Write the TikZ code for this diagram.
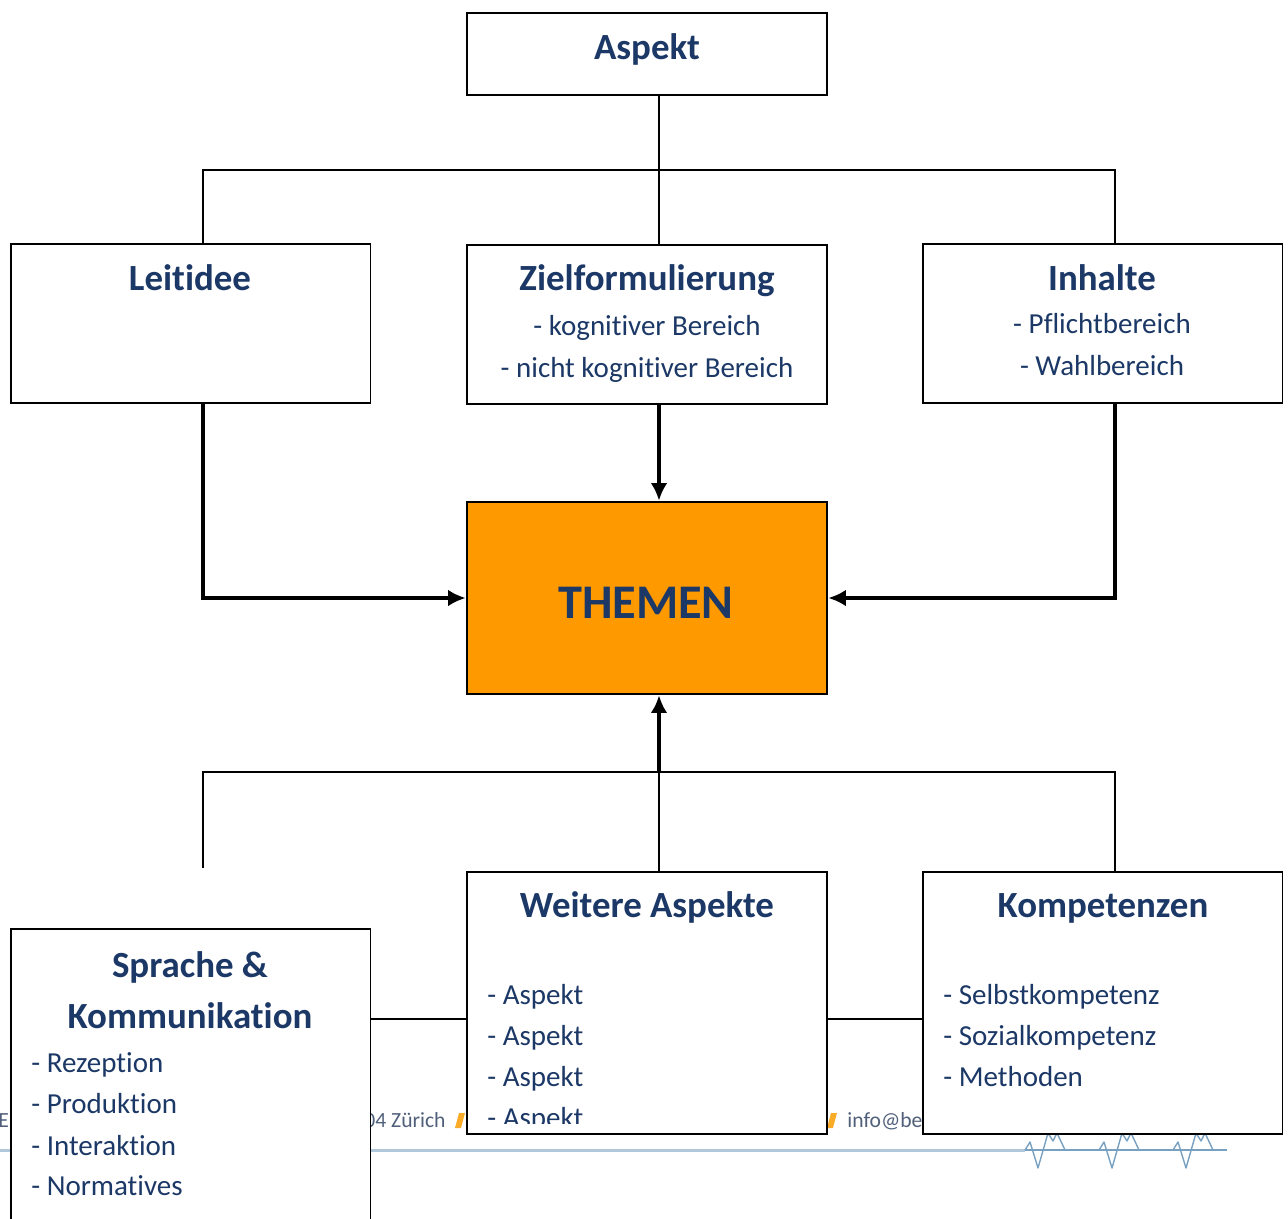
\documentclass[tikz,border=0pt]{standalone}
\usepackage{fontspec}
\setmainfont{Carlito}[Ligatures=CommonOff]
\usetikzlibrary{arrows.meta,positioning}
\definecolor{navy}{RGB}{28,56,102}
\definecolor{themeorange}{RGB}{255,153,0}
\definecolor{footblue}{RGB}{176,200,218}
\definecolor{ecgblue}{RGB}{120,160,192}
\definecolor{footgray}{RGB}{80,96,122}
\definecolor{footorange}{RGB}{250,172,40}

\begin{document}
\begin{tikzpicture}[x=0.02cm,y=-0.02cm,
  box/.style={draw=black, line width=1.1pt, fill=white, minimum width=7.2cm, inner sep=0pt},
  head/.style={text=navy, font=\fontsize{21}{25}\selectfont\bfseries, anchor=base, inner sep=0pt},
  item/.style={text=navy, font=\fontsize{16.5}{20}\selectfont, anchor=base, inner sep=0pt},
  foot/.style={text=footgray, font=\fontsize{12.3}{14}\selectfont, anchor=base west, inner sep=0pt},
  thin line/.style={line width=1pt},
  thick arrow/.style={line width=2pt, -{Latex[length=10pt,width=9.5pt]}}]
\useasboundingbox (0,0) rectangle (1288,1218);
\clip (0,0) rectangle (1288,1218);

\draw[footblue, line width=1.7pt] (0,1150) -- (1025,1150);
\draw[ecgblue, line width=0.8pt] (1025,1150) -- (1227,1150);
\foreach \s in {0,74,148}
  \draw[ecgblue, line width=0.8pt, line join=round] (1025+\s,1150) -- (1030+\s,1142) -- (1038+\s,1168)
    -- (1048+\s,1133) -- (1053+\s,1141) -- (1057+\s,1133) -- (1065+\s,1150);
\node[foot] (footE) at (-2,1127) {E};
\node[foot] (footZ) at (364,1127) {04 Zürich};
\node[foot] (footM) at (847,1127) {info@be};
\fill[footorange] (455,1128) -- (459,1113) -- (465,1113) -- (461,1128) -- cycle;
\fill[footorange] (827,1128) -- (831,1113) -- (837,1113) -- (833,1128) -- cycle;

\node[box, minimum height=1.64cm] (asp) at (647,54) {};
\node[box, minimum height=3.18cm] (leit) at (190.5,323.5) {};
\node[box, minimum height=3.18cm] (ziel) at (647,324.5) {};
\node[box, minimum height=3.18cm] (inh) at (1102.5,323.5) {};
\node[box, fill=themeorange, line width=1.5pt, minimum height=3.84cm] (them) at (647,598) {};
\node[box, minimum height=5.24cm] (weit) at (647,1003) {};
\node[box, minimum height=5.24cm] (komp) at (1102.5,1003) {};
\node[box, minimum height=6.62cm] (spr) at (190.5,1094.5) {};

\node[head] (aspT) at (647,59) {Aspekt};
\node[head] (leitT) at (190,290) {Leitidee};
\node[head] (zielT) at (647,290) {Zielformulierung};
\node[item] (ziel1) at (647,335) {- kognitiver Bereich};
\node[item] (ziel2) at (647,377) {- nicht kognitiver Bereich};
\node[head] (inhT) at (1102,290) {Inhalte};
\node[item] (inh1) at (1102,333) {- Pflichtbereich};
\node[item] (inh2) at (1102,375) {- Wahlbereich};
\node[head, font=\fontsize{27.5}{32}\selectfont\bfseries] (themT) at (646,618) {THEMEN};
\node[head] (weitT) at (647,917) {Weitere Aspekte};
\foreach \y [count=\i] in {1004,1045,1086}
  \node[item, anchor=base west] (weit\i) at (487,\y) {- Aspekt};
\begin{scope}
\clip (470,875) rectangle (825,1123);
\node[item, anchor=base west] (weit4) at (487,1127) {- Aspekt};
\end{scope}
\node[head] (kompT) at (1103,917) {Kompetenzen};
\node[item, anchor=base west] (komp1) at (943,1004) {- Selbstkompetenz};
\node[item, anchor=base west] (komp2) at (943,1045) {- Sozialkompetenz};
\node[item, anchor=base west] (komp3) at (943,1086) {- Methoden};
\node[head] (sprT1) at (190,977) {Sprache \&};
\node[head] (sprT2) at (190,1028) {Kommunikation};
\node[item, anchor=base west] (spr1) at (31,1072) {- Rezeption};
\node[item, anchor=base west] (spr2) at (31,1113) {- Produktion};
\node[item, anchor=base west] (spr3) at (31,1155) {- Interaktion};
\node[item, anchor=base west] (spr4) at (31,1195) {- Normatives};

\coordinate (axis) at (659,0);
\coordinate (colL) at (203,0);
\coordinate (colR) at (1115,0);
\coordinate (jTop) at (659,170);
\coordinate (jBot) at (659,772);
\coordinate (sprTop) at (203,868);
\coordinate (link) at (0,1019);

\draw[thin line] (asp.south -| axis) -- (ziel.north -| axis);
\draw[thin line] (leit.north -| colL) |- (jTop) -| (inh.north -| colR);
\draw[thick arrow] (ziel.south -| axis) -- (them.north -| axis);
\draw[thick arrow] (leit.south -| colL) |- (them.west);
\draw[thick arrow] (inh.south -| colR) |- (them.east);
\draw[thick arrow] (jBot) -- (them.south -| axis);
\draw[thin line] (sprTop) |- (jBot) -| (komp.north -| colR);
\draw[thin line] (weit.north -| axis) -- (jBot);
\draw[thin line] (spr.east |- link) -- (weit.west |- link);
\draw[thin line] (weit.east |- link) -- (komp.west |- link);
\end{tikzpicture}
\end{document}
